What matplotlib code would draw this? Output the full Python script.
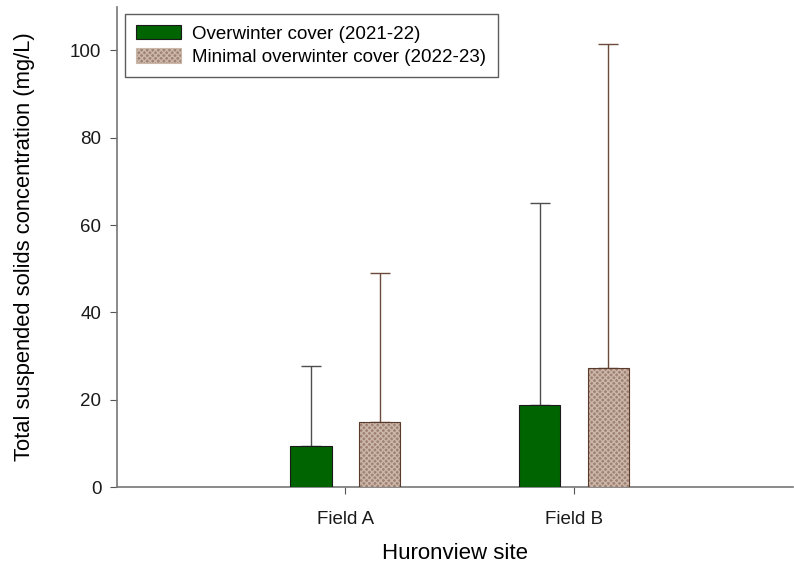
import numpy as np
import matplotlib
matplotlib.use("Agg")
import matplotlib.pyplot as plt
from matplotlib.patches import Patch

plt.rcParams['font.family'] = ['Liberation Sans', 'DejaVu Sans']

# mean TSS and upper error per field
sites = ["Field A", "Field B"]
cover_mean = [9.5, 18.9]
cover_err = [18.2, 46.2]
minimal_mean = [15.0, 27.3]
minimal_err = [34.0, 74.2]

x = np.arange(1, len(sites) + 1)
width = 0.18
offset = 0.15

fig = plt.figure(figsize=(7.94, 5.65), dpi=100)
ax = fig.add_axes([0.147, 0.138, 0.852, 0.85])

# overwinter cover bars
ax.bar(x - offset, cover_mean, width, color="#006400", edgecolor="#1a1a1a",
       linewidth=0.8, zorder=3)
ax.errorbar(x - offset, cover_mean, yerr=[np.zeros(len(x)), cover_err],
            fmt="none", ecolor="#4d4d4d", elinewidth=1.0, capsize=7,
            capthick=1.0, zorder=2)

# minimal cover bars, dotted fill drawn as a hatch layer under the outline
ax.bar(x + offset, minimal_mean, width, color="#a08272", edgecolor="#cbb6aa",
       hatch="xxxxxx", linewidth=0, zorder=3)
ax.bar(x + offset, minimal_mean, width, fill=False, edgecolor="#5a3a2a",
       linewidth=0.8, zorder=4)
ax.errorbar(x + offset, minimal_mean, yerr=[np.zeros(len(x)), minimal_err],
            fmt="none", ecolor="#6b4a3a", elinewidth=1.0, capsize=7,
            capthick=1.0, zorder=2)

ax.set_xlim(0, 2.96)
ax.set_ylim(0, 110)
ax.set_yticks([0, 20, 40, 60, 80, 100])
ax.set_xticks(x)
ax.set_xticklabels(sites)
ax.tick_params(axis="both", labelsize=13.5, color="#555555", length=5,
               labelcolor="#1a1a1a", pad=6)
ax.tick_params(axis="x", pad=12)
for side in ["top", "right"]:
    ax.spines[side].set_visible(False)
for side in ["left", "bottom"]:
    ax.spines[side].set_color("#777777")
    ax.spines[side].set_linewidth(1.2)

ax.set_xlabel("Huronview site", fontsize=16, labelpad=11)
ax.set_ylabel("Total suspended solids concentration (mg/L)", fontsize=15.8,
              labelpad=25)

handles = [
    Patch(facecolor="#006400", edgecolor="#1a1a1a", linewidth=0.8),
    Patch(facecolor="#a08272", edgecolor="#cbb6aa", hatch="xxxxxx",
          linewidth=0.8),
]
leg = ax.legend(handles, ["Overwinter cover (2021-22)",
                          "Minimal overwinter cover (2022-23)"],
                loc="upper left", bbox_to_anchor=(0.012, 0.9855),
                borderaxespad=0, fontsize=13.5,
                frameon=True, fancybox=False, edgecolor="#333333",
                handlelength=2.4, handleheight=0.8, labelspacing=0.3,
                borderpad=0.6, handletextpad=0.6)
leg.get_frame().set_linewidth(1.0)

fig.savefig("out.png", dpi=100)
